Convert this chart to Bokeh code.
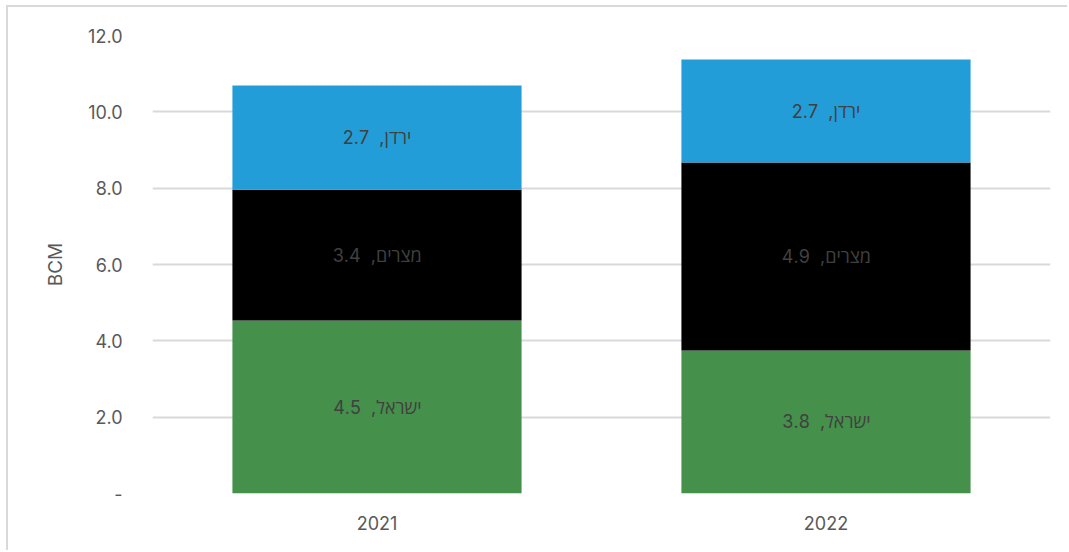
from bokeh.plotting import figure
from bokeh.models import ColumnDataSource, NumeralTickFormatter, FixedTicker
from bokeh.core.properties import value
from bokeh.embed import file_html
from bokeh.resources import INLINE

years = ["2021", "2022"]
israel = [4.53, 3.75]
egypt = [3.43, 4.92]
jordan = [2.73, 2.70]
names = {"israel": "ישראל", "egypt": "מצרים", "jordan": "ירדן"}
colors = {"israel": "#45904A", "egypt": "#000000", "jordan": "#229DD8"}
y_ticks = [0, 2, 4, 6, 8, 10, 12]

FONT = "Inter"
LABEL_FONT = "Inter, 'Open Sans', sans-serif"

src = ColumnDataSource(dict(year=years, israel=israel, egypt=egypt, jordan=jordan))

p = figure(x_range=years, y_range=(0, 12), width=1061, height=545,
           output_backend="svg", toolbar_location=None,
           min_border_left=144, min_border_right=19, min_border_top=28,
           min_border_bottom=59)
p.margin = (5, 0, 0, 6)
p.styles = {"border-left": "2px solid #d9d9d9", "border-top": "2px solid #d9d9d9",
            "box-sizing": "border-box"}

keys = ["israel", "egypt", "jordan"]
p.vbar_stack(keys, x="year", width=0.644, source=src,
             color=[colors[k] for k in keys], line_color=None)

series = {"israel": israel, "egypt": egypt, "jordan": jordan}
lx, ly, lt = [], [], []
for i, yr in enumerate(years):
    base = 0.0
    for k in keys:
        v = series[k][i]
        lx.append(yr)
        ly.append(base + v / 2)
        lt.append(f"{names[k]}, \u00a0{v:.1f}")
        base += v
p.text(x=lx, y=ly, text=lt, text_align="center", text_baseline="middle",
       text_font=value(LABEL_FONT), text_font_size="18px", text_color="#404040")

p.outline_line_color = None
p.xgrid.grid_line_color = None
p.ygrid.grid_line_color = "#d9d9d9"
p.ygrid.grid_line_width = 2
p.yaxis.ticker = FixedTicker(ticks=y_ticks)
p.yaxis.formatter = NumeralTickFormatter(format="0.0")
p.yaxis.major_label_overrides = {0: "-"}
for ax in (p.xaxis[0], p.yaxis[0]):
    ax.axis_line_color = None
    ax.major_tick_line_color = None
    ax.minor_tick_line_color = None
    ax.major_label_text_font = FONT
    ax.major_label_text_font_size = "18px"
    ax.major_label_text_color = "#595959"
p.yaxis.major_label_standoff = 24
p.xaxis.major_label_standoff = 16
p.yaxis.axis_label = "BCM"
p.yaxis.axis_label_text_font = FONT
p.yaxis.axis_label_text_font_size = "19px"
p.yaxis.axis_label_text_font_style = "normal"
p.yaxis.axis_label_text_color = "#595959"
p.yaxis.axis_label_standoff = 18

open("out.html", "w").write(file_html(p, INLINE))
